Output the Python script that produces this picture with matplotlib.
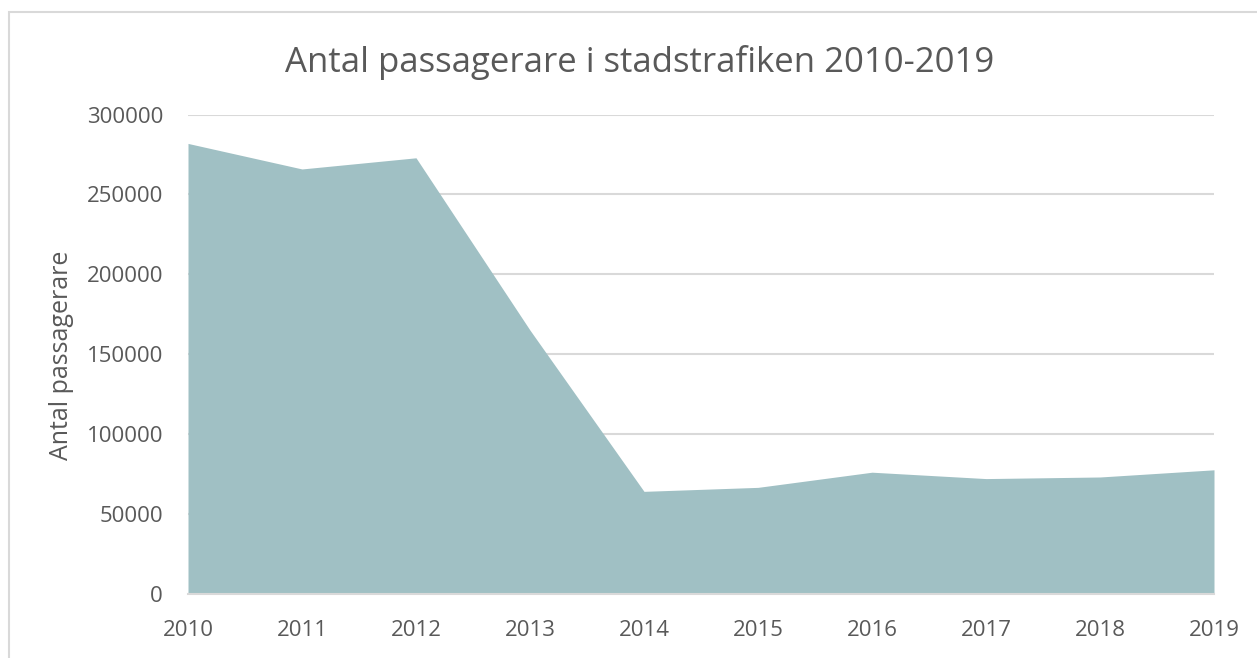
import matplotlib.pyplot as plt
from matplotlib.patches import Rectangle

plt.rcParams['font.family'] = ['Open Sans', 'DejaVu Sans']

years = [2010, 2011, 2012, 2013, 2014, 2015, 2016, 2017, 2018, 2019]
passengers = [282000, 266000, 273000, 165000, 64000, 66500, 76000, 72000, 73000, 77500]
yticks = [0, 50000, 100000, 150000, 200000, 250000, 300000]

text_col = '#595959'
grid_col = '#d9d9d9'
fill_col = '#a0c0c4'

fig = plt.figure(figsize=(12.57, 6.58), dpi=100)
fig.patches.append(Rectangle((9 / 1257, -0.1), 1.2, 1.1 - 12 / 658, transform=fig.transFigure,
                             fill=False, edgecolor=grid_col, linewidth=1.5))

ax = fig.add_axes([188 / 1257, 1 - 593.5 / 658, (1214 - 188) / 1257, (593.5 - 114.7) / 658])
ax.fill_between(years, passengers, 0, color=fill_col, linewidth=0, zorder=2)

ax.set_xlim(years[0], years[-1])
ax.set_ylim(0, 300000)
ax.set_yticks(yticks)
ax.set_yticklabels([str(v) for v in yticks])
ax.set_xticks(years)
ax.set_xticklabels([str(y) for y in years])
ax.grid(axis='y', color=grid_col, linewidth=1.5, zorder=1)
ax.tick_params(length=0, labelsize=16, colors=text_col)
ax.tick_params(axis='y', pad=18)
ax.tick_params(axis='x', pad=19)
for side in ['top', 'right', 'left']:
    ax.spines[side].set_visible(False)
ax.spines['bottom'].set_color(grid_col)
ax.spines['bottom'].set_linewidth(1.5)

ax.set_ylabel('Antal passagerare', fontsize=18, color=text_col)
ax.yaxis.label.set_va('center')
ax.yaxis.set_label_coords((62 - 188) / 1026, (593.5 - 355) / 478.8)
fig.text(640 / 1257, 1 - 62 / 658, 'Antal passagerare i stadstrafiken 2010-2019',
         ha='center', va='center', fontsize=25, color=text_col)

fig.savefig('out.png', dpi=100)
